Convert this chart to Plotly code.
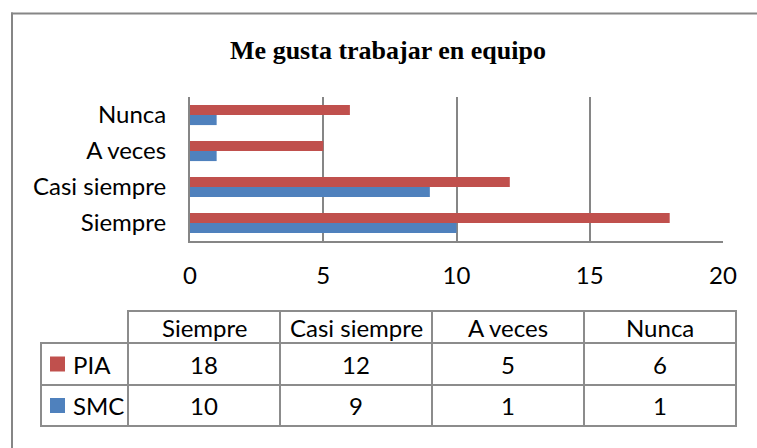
import plotly.graph_objects as go

# data
categories = ["Siempre", "Casi siempre", "A veces", "Nunca"]
pia = [18, 12, 5, 6]
smc = [10, 9, 1, 1]
series_names = ["PIA", "SMC"]
title = "Me gusta trabajar en equipo"

RED = "#C0504D"
BLUE = "#4F81BD"
GRID = "#868686"
LINE = "#8C8C8C"
FONT = "Lato"
FS = 24

W, H = 757, 448
# plot area in pixels
L, R, T, B = 190, 723, 97, 241


def px(x):
    return (x - L) / (R - L)


def py(y):
    return (B - y) / (B - T)


fig = go.Figure()
# SMC first so that it sits below PIA in each group
fig.add_trace(go.Bar(y=categories, x=smc, name="SMC", orientation="h",
                     marker=dict(color=BLUE, line=dict(width=0))))
fig.add_trace(go.Bar(y=categories, x=pia, name="PIA", orientation="h",
                     marker=dict(color=RED, line=dict(width=0))))

shapes = []
annotations = []

# outer chart border: only top and left edges are inside the picture
shapes.append(dict(type="line", xref="paper", yref="paper",
                   x0=px(11), x1=px(800), y0=py(13.5), y1=py(13.5),
                   line=dict(color=GRID, width=2), layer="below"))
shapes.append(dict(type="line", xref="paper", yref="paper",
                   x0=px(12), x1=px(12), y0=py(12.5), y1=py(500),
                   line=dict(color=GRID, width=2), layer="below"))

# data table under the chart
col_edges = [128 + i * 152 for i in range(len(categories) + 1)]
label_left = 41
head_top, row_tops = 311, [343, 385]
table_bottom = 426


def cell_text(x, y, text, anchor="center"):
    annotations.append(dict(xref="paper", yref="paper", x=px(x), y=py(y), text=text,
                            xanchor=anchor, yanchor="middle", showarrow=False,
                            font=dict(size=FS, color="black", family=FONT)))


# header row (only over the category columns)
for i, cat in enumerate(categories):
    x0, x1 = col_edges[i], col_edges[i + 1]
    shapes.append(dict(type="rect", xref="paper", yref="paper",
                       x0=px(x0), x1=px(x1), y0=py(head_top), y1=py(row_tops[0]),
                       line=dict(color=LINE, width=2)))
    cell_text((x0 + x1) / 2, (head_top + row_tops[0]) / 2, cat)

rows = [(series_names[0], pia, RED), (series_names[1], smc, BLUE)]
for r, (name, vals, col) in enumerate(rows):
    top = row_tops[r]
    bot = row_tops[r + 1] if r + 1 < len(row_tops) else table_bottom
    ymid = (top + bot) / 2
    # label cell with colour key
    shapes.append(dict(type="rect", xref="paper", yref="paper",
                       x0=px(label_left), x1=px(col_edges[0]), y0=py(top), y1=py(bot),
                       line=dict(color=LINE, width=2)))
    shapes.append(dict(type="rect", xref="paper", yref="paper",
                       x0=px(50), x1=px(65), y0=py(ymid - 7.5), y1=py(ymid + 7.5),
                       fillcolor=col, line=dict(width=0)))
    cell_text(71, ymid, name, anchor="left")
    for i, v in enumerate(vals):
        x0, x1 = col_edges[i], col_edges[i + 1]
        shapes.append(dict(type="rect", xref="paper", yref="paper",
                           x0=px(x0), x1=px(x1), y0=py(top), y1=py(bot),
                           line=dict(color=LINE, width=2)))
        cell_text((x0 + x1) / 2, ymid, str(v))

fig.update_layout(
    width=W, height=H,
    margin=dict(l=L, r=W - R, t=T, b=H - B, pad=0),
    paper_bgcolor="white", plot_bgcolor="white",
    showlegend=False,
    barmode="group", bargap=0.44, bargroupgap=0,
    title=dict(text="<b>" + title + "</b>", x=388 / W, xref="container",
               xanchor="center", y=1 - 50 / H, yref="container", yanchor="middle",
               font=dict(family="Liberation Serif", size=26, color="black")),
    font=dict(family=FONT, size=FS, color="black"),
    shapes=shapes,
    annotations=annotations,
)
fig.update_xaxes(range=[0, 20], dtick=5, tick0=0, showgrid=True, gridcolor=GRID, gridwidth=1.5,
                 showline=True, linecolor=GRID, linewidth=2, zeroline=False,
                 ticks="", ticklabelstandoff=12, tickfont=dict(size=FS, family=FONT),
                 automargin=False, fixedrange=True)
fig.update_yaxes(showline=True, linecolor=GRID, linewidth=2, showgrid=False,
                 ticks="", ticklabelstandoff=17, tickfont=dict(size=FS, family=FONT),
                 automargin=False, fixedrange=True)

# drop the default page margin so the figure fills the window exactly
fig.write_html(
    "out.html",
    config={"displayModeBar": False},
    post_script="document.body.style.margin='0';"
                "document.documentElement.style.overflow='hidden';",
)
